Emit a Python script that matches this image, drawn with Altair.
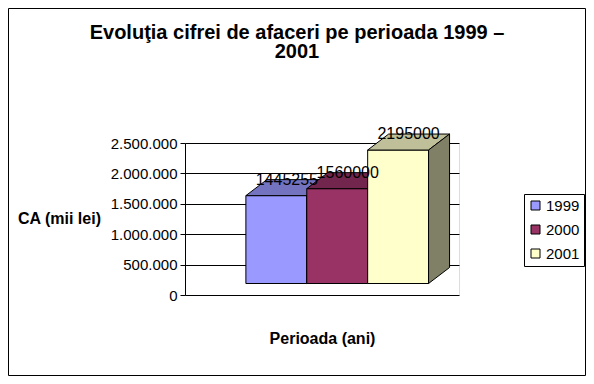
import altair as alt
import pandas as pd

# ---- data ----
years = ["1999", "2000", "2001"]
values = [1445255, 1560000, 2195000]
y_ticks = [0, 500000, 1000000, 1500000, 2000000, 2500000]

# ---- styles ----
front_colors = ["#9999FF", "#993366", "#FFFFCC"]
top_colors = ["#7373BF", "#73264D", "#BFBF99"]
side_colors = ["#4D4D80", "#4D1A33", "#808066"]
FONT = "Liberation Sans"

W, H = 274, 152
X_MAX = 4.5
Y_MAX = 2500000
px_x = X_MAX / W          # data units per pixel (x)
px_y = Y_MAX / H          # data units per pixel (y)
DEPTH_X = 21 * px_x
DEPTH_Y = 16 * px_y
BASE = 11.5 * px_y

front_rows, top_rows, side_rows, label_rows = [], [], [], []
for i, (yr, v) in enumerate(zip(years, values)):
    x0, x1 = i + 1, i + 2
    yt = BASE + v
    front_rows.append(dict(year=yr, x0=x0, x1=x1, yb=BASE, yt=yt))
    top_rows += [
        dict(year=yr, y=yt, xa=x0, xb=x1, fill=top_colors[i]),
        dict(year=yr, y=yt + DEPTH_Y, xa=x0 + DEPTH_X, xb=x1 + DEPTH_X, fill=top_colors[i]),
    ]
    side_rows += [
        dict(year=yr, x=x1, ya=BASE, yb=yt, fill=side_colors[i]),
        dict(year=yr, x=x1 + DEPTH_X, ya=BASE + DEPTH_Y, yb=yt + DEPTH_Y, fill=side_colors[i]),
    ]
    label_rows.append(dict(year=yr, value=v, x=(x0 + x1) / 2 + DEPTH_X / 2, y=yt + DEPTH_Y))

front_df = pd.DataFrame(front_rows)
top_df = pd.DataFrame(top_rows)
side_df = pd.DataFrame(side_rows)
label_df = pd.DataFrame(label_rows)

xscale = alt.Scale(domain=[0, X_MAX], nice=False, zero=False)
yscale = alt.Scale(domain=[0, Y_MAX], nice=False)

x_axis = alt.Axis(labels=False, ticks=False, domain=False, grid=False,
                  title="Perioada (ani)", titleFont=FONT, titleFontSize=16,
                  titleFontWeight="bold", titleColor="black",
                  titleX=W / 2, titleY=48, titleBaseline="alphabetic")
y_axis = alt.Axis(values=y_ticks, grid=True, gridColor="black", gridOpacity=1,
                  domainColor="black", tickColor="black", tickSize=5,
                  labelFont=FONT, labelFontSize=15, labelColor="black", labelPadding=3,
                  labelOverlap=False, labelFlush=False,
                  labelExpr="replace(replace(format(datum.value, ','), ',', '.'), ',', '.')",
                  title="CA (mii lei)", titleFont=FONT, titleFontSize=16,
                  titleFontWeight="bold", titleColor="black", titleAngle=0,
                  titleX=-126, titleY=75, titleAlign="center", titleBaseline="middle")


def X(field):
    return alt.X(field, scale=xscale, axis=x_axis)


def Y(field):
    return alt.Y(field, scale=yscale, axis=y_axis)


color_scale = alt.Scale(domain=years, range=front_colors)
legend = alt.Legend(orient="none", legendX=339, legendY=51, title=None,
                    strokeColor="black", fillColor="white", padding=4,
                    symbolType="square", symbolSize=81, symbolStrokeColor="black",
                    symbolStrokeWidth=1, labelFont=FONT, labelFontSize=15,
                    labelColor="black", rowPadding=8, labelOffset=3)

layers = []
for yr in years:
    front = alt.Chart(front_df).transform_filter(alt.datum.year == yr).mark_rect(
        stroke="black", strokeWidth=1).encode(
        x=X("x0:Q"), x2="x1:Q",
        y=Y("yb:Q"), y2="yt:Q",
        fill=alt.Fill("year:N", scale=color_scale, legend=legend),
    )
    top = alt.Chart(top_df).transform_filter(alt.datum.year == yr).mark_area(
        orient="horizontal", stroke="black", strokeWidth=1).encode(
        y=Y("y:Q"), x=X("xa:Q"), x2="xb:Q",
        fill=alt.Fill("fill:N", scale=None),
    )
    side = alt.Chart(side_df).transform_filter(alt.datum.year == yr).mark_area(
        orient="vertical", stroke="black", strokeWidth=1).encode(
        x=X("x:Q"), y=Y("ya:Q"), y2="yb:Q",
        fill=alt.Fill("fill:N", scale=None),
    )
    layers += [front, top, side]

labels = alt.Chart(label_df).mark_text(font=FONT, fontSize=16, color="black",
                                       align="center", baseline="middle").encode(
    x=X("x:Q"), y=Y("y:Q"),
    text=alt.Text("value:Q", format="d"),
)
layers.append(labels)

border = alt.Chart(pd.DataFrame({"a": [0]})).mark_rect(
    fill=None, stroke="black", strokeWidth=1).encode(
    x=alt.value(-176.5), x2=alt.value(578 - 177 - 0.5),
    y=alt.value(-134.5), y2=alt.value(368 - 135 - 0.5),
)
layers.append(border)

chart = alt.layer(*layers).properties(
    width=W, height=H,
    autosize=alt.AutoSizeParams(type="none"),
    padding={"left": 177, "top": 135, "right": 127, "bottom": 81},
    title=alt.TitleParams(
        text=["Evoluţia cifrei de afaceri pe perioada 1999 –", "2001"],
        font=FONT, fontSize=20, fontWeight="bold", color="black",
        anchor="middle", dx=-25, lineHeight=19, offset=0,
        baseline="alphabetic", dy=70),
).configure_view(stroke="black", strokeWidth=1).configure(background="white")

chart.save("out.html", embed_options={"renderer": "svg", "actions": False})
